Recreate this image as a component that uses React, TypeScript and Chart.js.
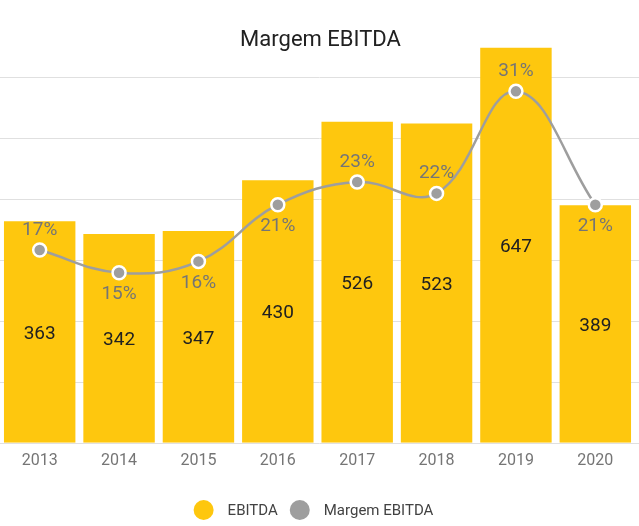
import React, { useEffect, useRef } from 'react';
import { Chart, registerables } from 'chart.js';

Chart.register(...registerables);

const years = ['2013', '2014', '2015', '2016', '2017', '2018', '2019', '2020'];
const ebitda = [363, 342, 347, 430, 526, 523, 647, 389];
const margem = [17, 15, 16, 21, 23, 22, 31, 21];
const margemLabelSide = ['above', 'below', 'below', 'below', 'above', 'above', 'above', 'below'];
const gridValues = [0, 100, 200, 300, 400, 500, 600];
const chartTitle = 'Margem EBITDA';
const seriesNames = ['EBITDA', 'Margem EBITDA'];

const FONT = 'Roboto';
const BAR_COLOR = '#FEC70E';
const LINE_COLOR = '#9E9E9E';

const gridPlugin = {
  id: 'fullGrid',
  beforeDatasetsDraw(chart: any) {
    const y = chart.scales.y;
    const ctx = chart.ctx;
    ctx.save();
    ctx.strokeStyle = '#E0E0E0';
    ctx.lineWidth = 1;
    gridValues.forEach((v) => {
      const py = Math.round(y.getPixelForValue(v)) + 0.5;
      ctx.beginPath();
      ctx.moveTo(0, py);
      ctx.lineTo(chart.width, py);
      ctx.stroke();
    });
    ctx.restore();
  },
};

const labelPlugin = {
  id: 'valueLabels',
  afterDatasetsDraw(chart: any) {
    const ctx = chart.ctx;
    ctx.save();
    ctx.textAlign = 'center';
    ctx.textBaseline = 'middle';
    ctx.font = `19px ${FONT}`;
    const barMeta = chart.getDatasetMeta(0);
    barMeta.data.forEach((bar: any, i: number) => {
      ctx.fillStyle = '#212121';
      ctx.fillText(String(ebitda[i]), bar.x, (bar.y + bar.base) / 2 + 2);
    });
    const lineMeta = chart.getDatasetMeta(1);
    lineMeta.data.forEach((pt: any, i: number) => {
      ctx.fillStyle = '#757575';
      const off = margemLabelSide[i] === 'above' ? -20 : 22;
      ctx.fillText(margem[i] + '%', pt.x, pt.y + off);
    });
    ctx.restore();
  },
};

const titleLegendPlugin = {
  id: 'titleLegend',
  afterDraw(chart: any) {
    const ctx = chart.ctx;
    const W = chart.width;
    ctx.save();
    ctx.textBaseline = 'middle';
    ctx.textAlign = 'center';
    ctx.fillStyle = '#212121';
    ctx.font = `22px ${FONT}`;
    ctx.fillText(chartTitle, W / 2 + 1, 40);

    ctx.font = `15px ${FONT}`;
    const r = 10;
    const gapText = 14;
    const gapItem = 12;
    const colors = [BAR_COLOR, LINE_COLOR];
    const widths = seriesNames.map((s) => ctx.measureText(s).width);
    let total = 0;
    widths.forEach((w, i) => {
      total += 2 * r + gapText + w + (i < widths.length - 1 ? gapItem : 0);
    });
    let x = W / 2 - total / 2 - 6;
    const cy = 510;
    ctx.textAlign = 'left';
    seriesNames.forEach((s, i) => {
      ctx.fillStyle = colors[i];
      ctx.beginPath();
      ctx.arc(x + r, cy, r, 0, Math.PI * 2);
      ctx.fill();
      x += 2 * r + gapText;
      ctx.fillStyle = '#424242';
      ctx.fillText(s, x, cy + 1);
      x += widths[i] + gapItem;
    });
    ctx.restore();
  },
};

export default function App() {
  const ref = useRef<HTMLCanvasElement>(null);
  useEffect(() => {
    if (!ref.current) return;
    Chart.defaults.font.family = FONT;
    const chart = new Chart(ref.current, {
      type: 'bar',
      data: {
        labels: years,
        datasets: [
          {
            type: 'bar',
            label: seriesNames[0],
            data: ebitda,
            backgroundColor: BAR_COLOR,
            borderWidth: 0,
            barPercentage: 0.9,
            categoryPercentage: 1,
            yAxisID: 'y',
            order: 2,
          },
          {
            type: 'line',
            label: seriesNames[1],
            data: margem,
            borderColor: LINE_COLOR,
            borderWidth: 2.5,
            tension: 0.4,
            pointRadius: 6.5,
            pointBackgroundColor: LINE_COLOR,
            pointBorderColor: '#FFFFFF',
            pointBorderWidth: 2.5,
            yAxisID: 'y2',
            order: 1,
            clip: false,
          } as any,
        ],
      },
      options: {
        responsive: true,
        maintainAspectRatio: false,
        animation: false,
        layout: { autoPadding: false, padding: { top: 46, left: -3, right: 4, bottom: 47 } },
        plugins: {
          legend: { display: false },
          title: { display: false },
          tooltip: { enabled: false },
        },
        scales: {
          x: {
            grid: { display: false, drawTicks: false },
            border: { display: false },
            ticks: { color: '#757575', font: { size: 16, family: FONT }, padding: 8.5 },
          },
          y: { display: false, min: 0, max: 650 },
          y2: { display: false, min: 0, max: 35 },
        },
      } as any,
      plugins: [gridPlugin, labelPlugin, titleLegendPlugin],
    });
    return () => chart.destroy();
  }, []);
  return (
    <div style={{ position: 'fixed', left: 0, top: 0, width: 639, height: 526 }}>
      <canvas ref={ref} />
    </div>
  );
}
